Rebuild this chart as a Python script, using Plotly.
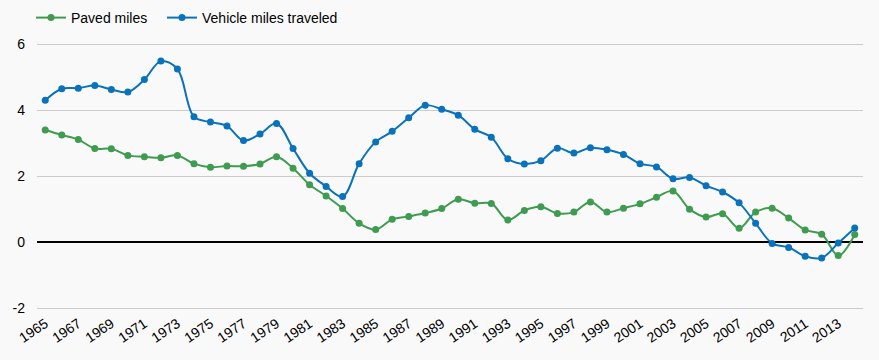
import plotly.graph_objects as go

years = list(range(1965, 2015))
paved_miles = [3.40, 3.25, 3.11, 2.84, 2.83, 2.63, 2.59, 2.56, 2.63, 2.38,
               2.27, 2.31, 2.30, 2.37, 2.59, 2.24, 1.74, 1.40, 1.02, 0.57,
               0.38, 0.69, 0.78, 0.88, 1.02, 1.30, 1.18, 1.17, 0.67, 0.96,
               1.07, 0.87, 0.91, 1.22, 0.91, 1.03, 1.16, 1.36, 1.55, 1.00,
               0.76, 0.86, 0.42, 0.91, 1.03, 0.73, 0.37, 0.24, -0.41, 0.23]
vehicle_miles = [4.30, 4.65, 4.67, 4.75, 4.63, 4.55, 4.93, 5.49, 5.25, 3.80,
                 3.64, 3.52, 3.08, 3.28, 3.60, 2.84, 2.09, 1.69, 1.38, 2.38,
                 3.04, 3.36, 3.77, 4.15, 4.03, 3.85, 3.42, 3.18, 2.53, 2.37,
                 2.47, 2.85, 2.70, 2.86, 2.80, 2.66, 2.38, 2.28, 1.92, 1.96,
                 1.71, 1.52, 1.19, 0.57, -0.04, -0.16, -0.43, -0.48, -0.03, 0.43]
x_ticks = list(range(1965, 2014, 2))
y_ticks = [-2, 0, 2, 4, 6]

GREEN = "#3f9b4f"
BLUE = "#0a72bb"
BG = "#f9f9f9"

fig = go.Figure()
fig.add_trace(go.Scatter(
    x=years, y=paved_miles, name="Paved miles", mode="lines+markers",
    line=dict(color=GREEN, width=2, shape="spline", smoothing=1.0),
    marker=dict(color=GREEN, size=7), legend="legend",
))
fig.add_trace(go.Scatter(
    x=years, y=vehicle_miles, name="Vehicle miles traveled", mode="lines+markers",
    line=dict(color=BLUE, width=2, shape="spline", smoothing=1.0),
    marker=dict(color=BLUE, size=7), legend="legend2",
))

legend_style = dict(orientation="h", xref="container", yref="container",
                    xanchor="left", y=1 - 18 / 360, yanchor="middle",
                    bgcolor="rgba(0,0,0,0)", font=dict(size=14), itemwidth=30)

fig.update_layout(
    width=879, height=360,
    margin=dict(l=37, r=16, t=41, b=48, autoexpand=False),
    paper_bgcolor=BG, plot_bgcolor=BG,
    font=dict(family="Liberation Sans, Arial, sans-serif", size=14, color="#000"),
    showlegend=True,
    legend=dict(x=31 / 879, **legend_style),
    legend2=dict(x=162 / 879, **legend_style),
    xaxis=dict(range=[1964.5, 2014.5], tickmode="array", tickvals=x_ticks,
               ticktext=[str(v) for v in x_ticks], tickangle=-34,
               showgrid=False, zeroline=False, showline=False, ticks="",
               automargin=False),
    yaxis=dict(range=[-2.12, 6.1], tickmode="array", tickvals=y_ticks,
               ticktext=[str(v) for v in y_ticks],
               showgrid=True, gridcolor="#cccccc", gridwidth=1,
               zeroline=True, zerolinecolor="#000000", zerolinewidth=1.5,
               showline=False, ticks="", ticklabelstandoff=11, automargin=False),
)

fig.write_html(
    "out.html",
    config={"displayModeBar": False},
    post_script="document.body.style.margin='0';document.body.style.background='#f9f9f9';",
)
